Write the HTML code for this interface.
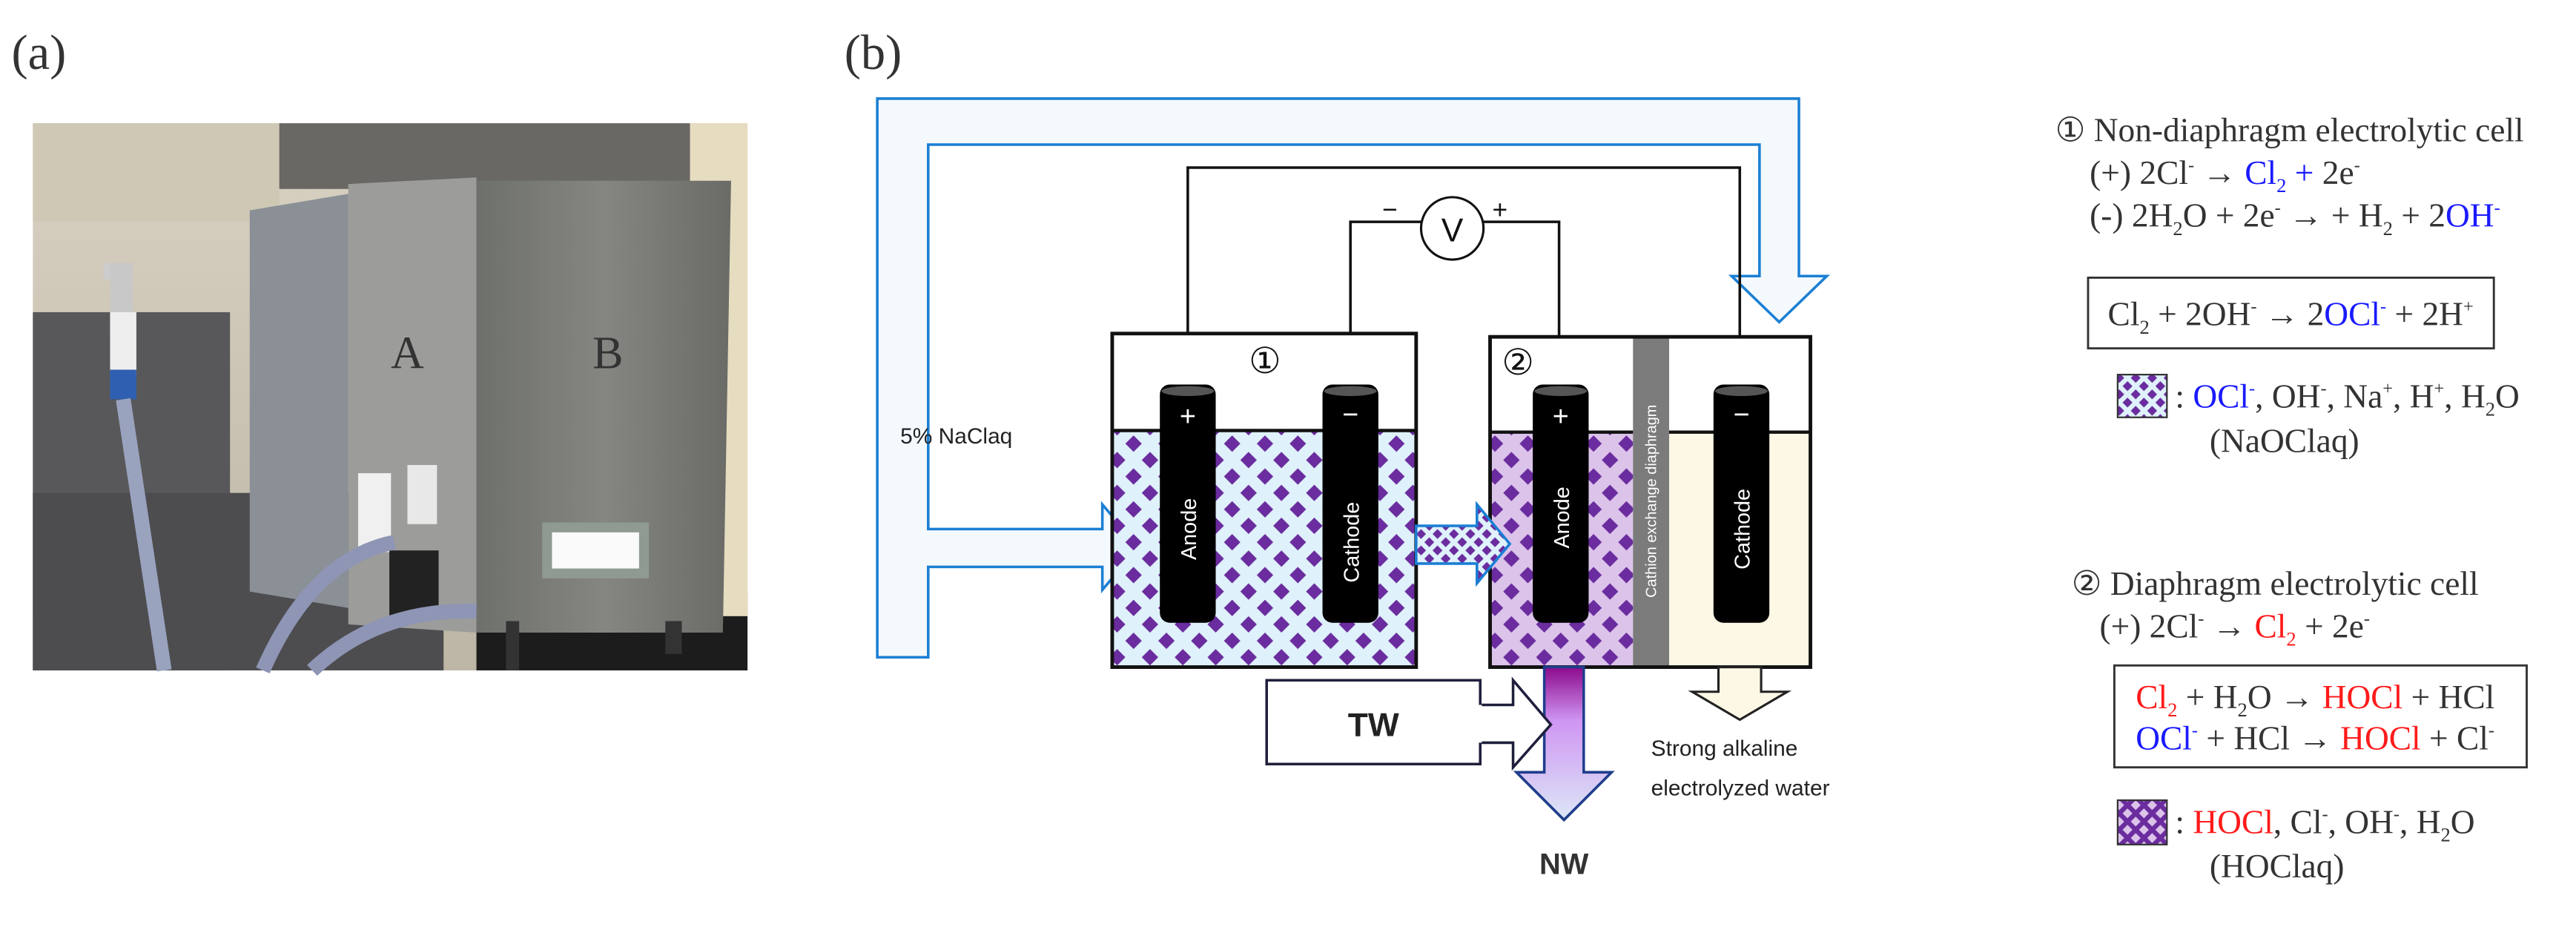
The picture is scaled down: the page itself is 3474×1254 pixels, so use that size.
<!DOCTYPE html>
<html><head><meta charset="utf-8">
<style>
html,body{margin:0;padding:0;background:#fff;}
svg{display:block;}
.s{font-family:"Liberation Serif",serif;fill:#333;}
.a{font-family:"Liberation Sans",sans-serif;}
.b{fill:#1a1aff}.r{fill:#ff1a1a}
</style></head><body>
<svg width="3474" height="1254" viewBox="0 0 1568 566" xmlns="http://www.w3.org/2000/svg">
<defs>
<pattern id="p1" width="20" height="20" patternUnits="userSpaceOnUse">
<rect width="20" height="20" fill="#dff1fb"/>
<path d="M0,-5 L5,0 L0,5 L-5,0Z M20,-5 L25,0 L20,5 L15,0Z M0,15 L5,20 L0,25 L-5,20Z M20,15 L25,20 L20,25 L15,20Z M10,5 L15,10 L10,15 L5,10Z" fill="#6a2c9e"/>
</pattern>
<pattern id="p2" width="20" height="20" patternUnits="userSpaceOnUse">
<rect width="20" height="20" fill="#dcc3ea"/>
<path d="M0,-5 L5,0 L0,5 L-5,0Z M20,-5 L25,0 L20,5 L15,0Z M0,15 L5,20 L0,25 L-5,20Z M20,15 L25,20 L20,25 L15,20Z M10,5 L15,10 L10,15 L5,10Z" fill="#6a2c9e"/>
</pattern>
<pattern id="p3" width="10" height="10" patternUnits="userSpaceOnUse">
<rect width="10" height="10" fill="#dff1fb"/>
<path d="M0,-3 L3,0 L0,3 L-3,0Z M10,-3 L13,0 L10,3 L7,0Z M0,7 L3,10 L0,13 L-3,10Z M10,7 L13,10 L10,13 L7,10Z M5,2 L8,5 L5,8 L2,5Z" fill="#6a2c9e"/>
</pattern>
<pattern id="p4" width="10" height="10" patternUnits="userSpaceOnUse">
<rect width="10" height="10" fill="#6a2c9e"/>
<path d="M0,-3 L3,0 L0,3 L-3,0Z M10,-3 L13,0 L10,3 L7,0Z M0,7 L3,10 L0,13 L-3,10Z M10,7 L13,10 L10,13 L7,10Z M5,2 L8,5 L5,8 L2,5Z" fill="#dcc3ea"/>
</pattern>
<linearGradient id="gnw" x1="0" y1="0" x2="0" y2="1">
<stop offset="0" stop-color="#8c0a8c"/><stop offset="0.35" stop-color="#cf95f2"/><stop offset="1" stop-color="#dce8f6"/>
</linearGradient>
<linearGradient id="gB" x1="0" y1="0" x2="1" y2="0">
<stop offset="0" stop-color="#6e706c"/><stop offset="0.5" stop-color="#858681"/><stop offset="1" stop-color="#6a6b66"/>
</linearGradient>
<linearGradient id="gwall" x1="0" y1="0" x2="0" y2="1">
<stop offset="0" stop-color="#d9d2c2"/><stop offset="1" stop-color="#bdb5a5"/>
</linearGradient>
</defs>

<!-- (a) -->
<text x="7" y="42" class="s" font-size="30" fill="#222">(a)</text>
<g>
<rect x="20" y="75" width="435" height="333" fill="url(#gwall)"/>
<rect x="20" y="75" width="150" height="60" fill="#cfc8b5"/>
<rect x="20" y="190" width="120" height="218" fill="#58585a"/>
<rect x="20" y="300" width="250" height="108" fill="#4d4d50"/>
<rect x="170" y="75" width="250" height="40" fill="#6a6865"/>
<rect x="290" y="360" width="165" height="48" fill="#1c1c1c"/>
<rect x="420" y="75" width="35" height="300" fill="#e6dcc0"/>
<polygon points="152,128 212,118 212,370 152,360" fill="#8b9097"/>
<polygon points="212,112 290,108 290,385 212,380" fill="#9c9d9a"/>
<polygon points="290,110 445,110 440,385 290,385" fill="url(#gB)"/>
<rect x="218" y="288" width="20" height="48" fill="#f0f0f0"/>
<rect x="248" y="283" width="18" height="36" fill="#e8e8e8"/>
<rect x="237" y="335" width="30" height="40" fill="#222"/>
<rect x="330" y="318" width="65" height="34" fill="#8f9a92"/>
<rect x="336" y="324" width="53" height="22" fill="#fafafa"/>
<rect x="63" y="160" width="10" height="10" fill="#ccc"/>
<rect x="67" y="160" width="14" height="45" fill="#c8c8c8"/>
<rect x="67" y="190" width="16" height="40" fill="#eee"/>
<rect x="67" y="225" width="16" height="18" fill="#2f5fb0"/>
<path d="M75,243 L100,408" stroke="#9aa3be" stroke-width="9" fill="none"/>
<path d="M160,408 Q190,340 240,330" stroke="#8f95b5" stroke-width="9" fill="none"/>
<path d="M190,408 Q230,370 290,372" stroke="#8f95b5" stroke-width="9" fill="none"/>
<rect x="308" y="378" width="8" height="30" fill="#333"/>
<rect x="405" y="378" width="10" height="20" fill="#333"/>
<text x="248" y="224" class="s" font-size="28" fill="#fff" text-anchor="middle">A</text>
<text x="370" y="224" class="s" font-size="28" fill="#fff" text-anchor="middle">B</text>
</g>

<!-- (b) -->
<text x="514" y="42" class="s" font-size="30" fill="#222">(b)</text>

<!-- blue pipe -->
<polygon points="534,400 534,60 1095,60 1095,168 1112,168 1083,196 1054,168 1071,168 1071,88 565,88 565,322 671,322 671,307 693,333 671,359 671,345 565,345 565,400" fill="#f3f9fd" stroke="#1b7fd4" stroke-width="1.6"/>
<text x="548" y="270" class="a" font-size="13.5" fill="#222">5% NaClaq</text>

<!-- wires -->
<path d="M723,236 V102 H1059 V236" fill="none" stroke="#111" stroke-width="1.6"/>
<path d="M822,236 V135 H949 V236" fill="none" stroke="#111" stroke-width="1.6"/>
<circle cx="884" cy="139" r="19" fill="#fff" stroke="#111" stroke-width="1.4"/>
<text x="884" y="147" class="a" font-size="20" text-anchor="middle" fill="#111">V</text>
<text x="846" y="133" class="a" font-size="16" text-anchor="middle" fill="#111">−</text>
<text x="913" y="133" class="a" font-size="16" text-anchor="middle" fill="#111">+</text>

<!-- cell 1 -->
<rect x="677" y="203" width="185" height="203" fill="#fff"/>
<rect x="677" y="262" width="185" height="144" fill="url(#p1)"/>
<line x1="677" y1="262" x2="862" y2="262" stroke="#111" stroke-width="2"/>
<rect x="677" y="203" width="185" height="203" fill="none" stroke="#111" stroke-width="2.2"/>
<text x="770" y="227" class="a" font-size="22" text-anchor="middle" fill="#111">①</text>

<!-- cell 2 -->
<rect x="907" y="205" width="195" height="201" fill="#fff"/>
<rect x="907" y="263" width="87" height="143" fill="url(#p2)"/>
<rect x="1016" y="263" width="86" height="143" fill="#fdf8e6"/>
<rect x="994" y="205" width="22" height="201" fill="#7b7b7b"/>
<line x1="907" y1="263" x2="994" y2="263" stroke="#111" stroke-width="2"/>
<line x1="1016" y1="263" x2="1102" y2="263" stroke="#111" stroke-width="2"/>
<rect x="907" y="205" width="195" height="201" fill="none" stroke="#111" stroke-width="2.2"/>
<text x="0" y="0" class="a" font-size="9" fill="#fff" text-anchor="middle" transform="translate(1008 305) rotate(-90)">Cathion exchange diaphragm</text>
<text x="924" y="228" class="a" font-size="22" text-anchor="middle" fill="#111">②</text>

<!-- electrodes -->
<g fill="#000">
<rect x="706" y="234" width="34" height="145" rx="6"/>
<rect x="805" y="234" width="34" height="145" rx="6"/>
<rect x="933" y="234" width="34" height="145" rx="6"/>
<rect x="1043" y="234" width="34" height="145" rx="6"/>
</g>
<g fill="#555"><ellipse cx="723" cy="238" rx="16" ry="3"/><ellipse cx="822" cy="238" rx="16" ry="3"/><ellipse cx="950" cy="238" rx="16" ry="3"/><ellipse cx="1060" cy="238" rx="16" ry="3"/></g>
<g class="a" fill="#fff" text-anchor="middle">
<text x="723" y="259" font-size="17">+</text>
<text x="822" y="258" font-size="17">−</text>
<text x="950" y="259" font-size="17">+</text>
<text x="1060" y="258" font-size="17">−</text>
<text x="0" y="0" font-size="13" transform="translate(728 322) rotate(-90)">Anode</text>
<text x="0" y="0" font-size="13" transform="translate(827 330) rotate(-90)">Cathode</text>
<text x="0" y="0" font-size="13" transform="translate(955 315) rotate(-90)">Anode</text>
<text x="0" y="0" font-size="13" transform="translate(1065 322) rotate(-90)">Cathode</text>
</g>

<!-- middle arrow -->
<polygon points="862,320 899,320 899,307 919,331 899,355 899,343 862,343" fill="url(#p3)" stroke="#1b7fd4" stroke-width="1.6"/>

<!-- NW arrow -->
<polygon points="940,406 964,406 964,470 981,470 952,499 923,470 940,470" fill="url(#gnw)" stroke="#1f3d8c" stroke-width="1.6"/>
<text x="952" y="532" class="a" font-size="18" font-weight="bold" text-anchor="middle" fill="#333">NW</text>

<!-- TW -->
<polygon points="771,414 901,414 901,429 921,429 921,414 944,441 921,467 921,452 901,452 901,465 771,465" fill="#fff" stroke="#1f1f3c" stroke-width="1.6"/>
<line x1="901" y1="429" x2="901" y2="452" stroke="#fff" stroke-width="2"/>
<text x="836" y="448" class="a" font-size="20" font-weight="bold" text-anchor="middle" fill="#222">TW</text>

<!-- cream arrow -->
<polygon points="1046,406 1072,406 1072,421 1088,421 1059,438 1030,421 1046,421" fill="#fdf8e6" stroke="#222" stroke-width="1.4"/>
<text x="1005" y="460" class="a" font-size="13.5" fill="#222">Strong alkaline</text>
<text x="1005" y="484" class="a" font-size="13.5" fill="#222">electrolyzed water</text>

<!-- right text -->
<g class="s" font-size="20.5">
<text x="1251" y="86">① Non-diaphragm electrolytic cell</text>
<text x="1272" y="112">(+) 2Cl<tspan font-size="11" dy="-8">-</tspan><tspan dy="8"> → </tspan><tspan class="b">Cl<tspan font-size="12" dy="5">2</tspan><tspan dy="-5"> + </tspan></tspan>2e<tspan font-size="11" dy="-8">-</tspan></text>
<text x="1272" y="138">(-) 2H<tspan font-size="12" dy="5">2</tspan><tspan dy="-5">O + 2e</tspan><tspan font-size="11" dy="-8">-</tspan><tspan dy="8"> →   + H</tspan><tspan font-size="12" dy="5">2</tspan><tspan dy="-5"> + 2</tspan><tspan class="b">OH<tspan font-size="11" dy="-8">-</tspan></tspan></text>
<rect x="1271" y="169" width="247" height="43" fill="none" stroke="#333" stroke-width="1.3"/>
<text x="1283" y="198">Cl<tspan font-size="12" dy="5">2</tspan><tspan dy="-5"> + 2OH</tspan><tspan font-size="11" dy="-8">-</tspan><tspan dy="8">  → 2</tspan><tspan class="b">OCl<tspan font-size="11" dy="-8">-</tspan></tspan><tspan dy="8"> + 2H</tspan><tspan font-size="11" dy="-8">+</tspan></text>
<rect x="1289" y="228" width="30" height="26" fill="url(#p3)" stroke="#333" stroke-width="1"/>
<text x="1324" y="248">: <tspan class="b">OCl<tspan font-size="11" dy="-8">-</tspan></tspan><tspan dy="8">, OH</tspan><tspan font-size="11" dy="-8">-</tspan><tspan dy="8">, Na</tspan><tspan font-size="11" dy="-8">+</tspan><tspan dy="8">, H</tspan><tspan font-size="11" dy="-8">+</tspan><tspan dy="8">, H</tspan><tspan font-size="12" dy="5">2</tspan><tspan dy="-5">O</tspan></text>
<text x="1345" y="275">(NaOClaq)</text>

<text x="1261" y="362">② Diaphragm electrolytic cell</text>
<text x="1278" y="388">(+) 2Cl<tspan font-size="11" dy="-8">-</tspan><tspan dy="8"> → </tspan><tspan class="r">Cl<tspan font-size="12" dy="5">2</tspan></tspan><tspan dy="-5"> + 2e</tspan><tspan font-size="11" dy="-8">-</tspan></text>
<rect x="1287" y="405" width="251" height="62" fill="none" stroke="#333" stroke-width="1.3"/>
<text x="1300" y="431"><tspan class="r">Cl<tspan font-size="12" dy="5">2</tspan></tspan><tspan dy="-5"> + H</tspan><tspan font-size="12" dy="5">2</tspan><tspan dy="-5">O  → </tspan><tspan class="r">HOCl</tspan> + HCl</text>
<text x="1300" y="456"><tspan class="b">OCl<tspan font-size="11" dy="-8">-</tspan></tspan><tspan dy="8"> + HCl → </tspan><tspan class="r">HOCl</tspan> + Cl<tspan font-size="11" dy="-8">-</tspan></text>
<rect x="1289" y="487" width="30" height="27" fill="url(#p4)" stroke="#333" stroke-width="1"/>
<text x="1324" y="507">: <tspan class="r">HOCl</tspan>, Cl<tspan font-size="11" dy="-8">-</tspan><tspan dy="8">, OH</tspan><tspan font-size="11" dy="-8">-</tspan><tspan dy="8">, H</tspan><tspan font-size="12" dy="5">2</tspan><tspan dy="-5">O</tspan></text>
<text x="1345" y="534">(HOClaq)</text>
</g>
</svg>
</body></html>
